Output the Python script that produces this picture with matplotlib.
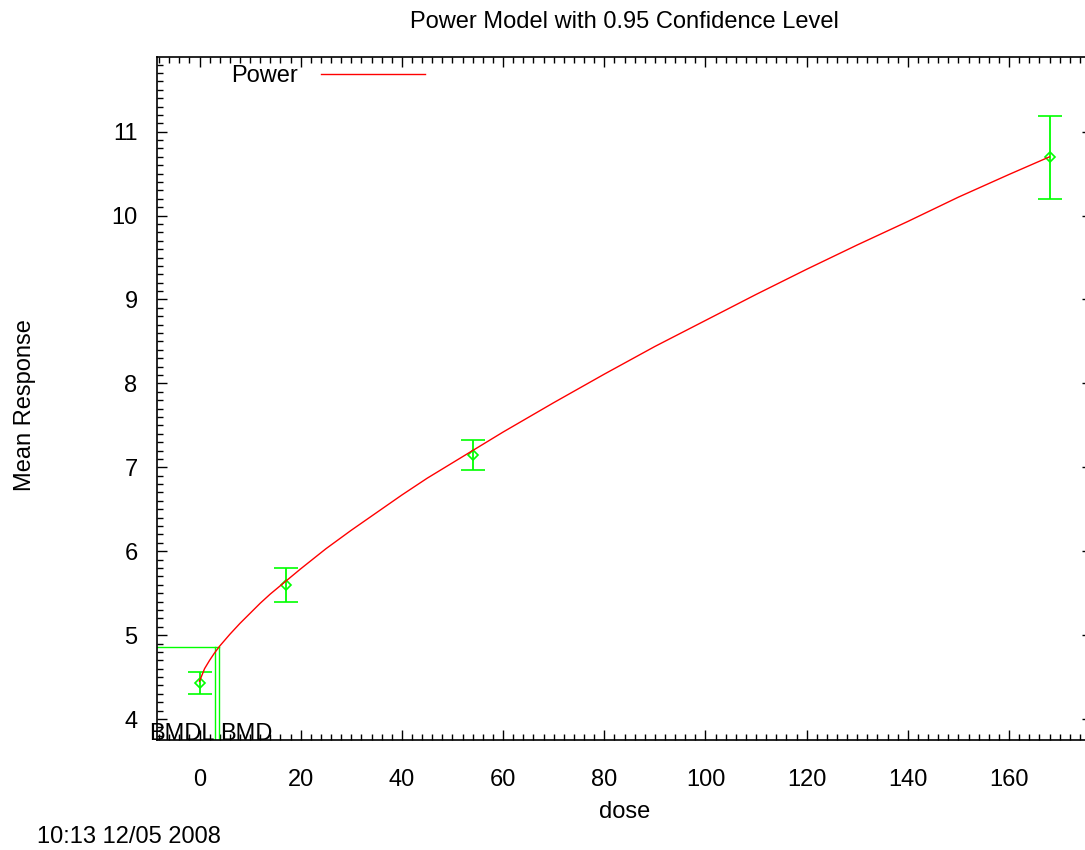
import matplotlib
matplotlib.use('Agg')
import matplotlib.pyplot as plt
import matplotlib.ticker as ticker

plt.rcParams['font.family'] = ['Liberation Sans', 'DejaVu Sans']

# observed group means with 95% confidence limits
dose = [0, 17, 54, 168]
mean_resp = [4.43, 5.60, 7.15, 10.70]
lower = [4.30, 5.40, 6.97, 10.20]
upper = [4.56, 5.80, 7.33, 11.19]

# fitted power curve
curve_dose = [0, 1, 2, 3, 4, 6, 8, 10, 12, 14, 17, 20, 25, 30, 35, 40, 45, 54,
              60, 70, 80, 90, 100, 110, 120, 130, 140, 150, 160, 168]
curve_resp = [4.45, 4.60, 4.70, 4.79, 4.87, 5.01, 5.14, 5.26, 5.38, 5.49, 5.64,
              5.79, 6.03, 6.25, 6.46, 6.67, 6.87, 7.20, 7.42, 7.77, 8.11, 8.44,
              8.75, 9.06, 9.36, 9.65, 9.93, 10.22, 10.49, 10.70]

bmd = 3.9
bmdl = 3.0
bmd_resp = 4.86

W, H = 1085, 850
fig = plt.figure(figsize=(W / 100, H / 100), dpi=100)
left, right, top, bottom = 157, 1092, 57, 740
ax = fig.add_axes([left / W, 1 - bottom / H, (right - left) / W, (bottom - top) / H])

xmin, xmax = -8.4, 176.4
ymin, ymax = 3.75, 11.89

err_lo = [m - l for m, l in zip(mean_resp, lower)]
err_hi = [u - m for m, u in zip(mean_resp, upper)]
ax.errorbar(dose, mean_resp, yerr=[err_lo, err_hi], fmt='D', color='#00ff00',
            mfc='none', mec='#00ff00', markersize=5, mew=1.2,
            elinewidth=1.3, capsize=8.3, capthick=1.3, zorder=3)

line, = ax.plot(curve_dose, curve_resp, color='#ff0000', linewidth=1.0, label='Power', zorder=4)

# BMD / BMDL markers
ax.plot([xmin, bmd], [bmd_resp, bmd_resp], color='#00ff00', linewidth=1.0)
ax.plot([bmdl, bmdl], [ymin, bmd_resp], color='#00ff00', linewidth=1.0)
ax.plot([bmd, bmd], [ymin, bmd_resp], color='#00ff00', linewidth=1.0)
ax.text(bmdl, 3.82, 'BMDL', ha='right', va='center', fontsize=17)
ax.text(bmd + 0.2, 3.82, 'BMD', ha='left', va='center', fontsize=17)

ax.set_xlim(xmin, xmax)
ax.set_ylim(ymin, ymax)
ax.xaxis.set_major_locator(ticker.MultipleLocator(20))
ax.xaxis.set_minor_locator(ticker.MultipleLocator(2))
ax.yaxis.set_major_locator(ticker.MultipleLocator(1))
ax.yaxis.set_minor_locator(ticker.MultipleLocator(0.1))
ax.tick_params(which='both', direction='in', top=True, right=True, width=1.0)
ax.tick_params(which='major', length=7, labelsize=17)
ax.tick_params(which='minor', length=4)
ax.tick_params(axis='x', which='major', pad=21)
ax.tick_params(axis='y', which='major', pad=14)
for s in ax.spines.values():
    s.set_linewidth(1.2)

ax.set_xlabel('dose', fontsize=17, va='center')
ax.xaxis.set_label_coords(0.5, -0.1054)
ax.set_ylabel('Mean Response', fontsize=17, va='center')
ax.yaxis.set_label_coords(-0.1412, 0.490)

ax.legend(handles=[line], loc='center left', bbox_to_anchor=(0.0791, 0.9722),
          frameon=False, markerfirst=False, handlelength=4.4, handletextpad=0.97,
          borderpad=0, borderaxespad=0, fontsize=17)

fig.text(624 / W, 1 - 22 / H, 'Power Model with 0.95 Confidence Level',
         ha='center', va='center', fontsize=17)
fig.text(37 / W, 1 - 837 / H, '10:13 12/05 2008', ha='left', va='center', fontsize=17)

fig.savefig('out.png', dpi=100)
